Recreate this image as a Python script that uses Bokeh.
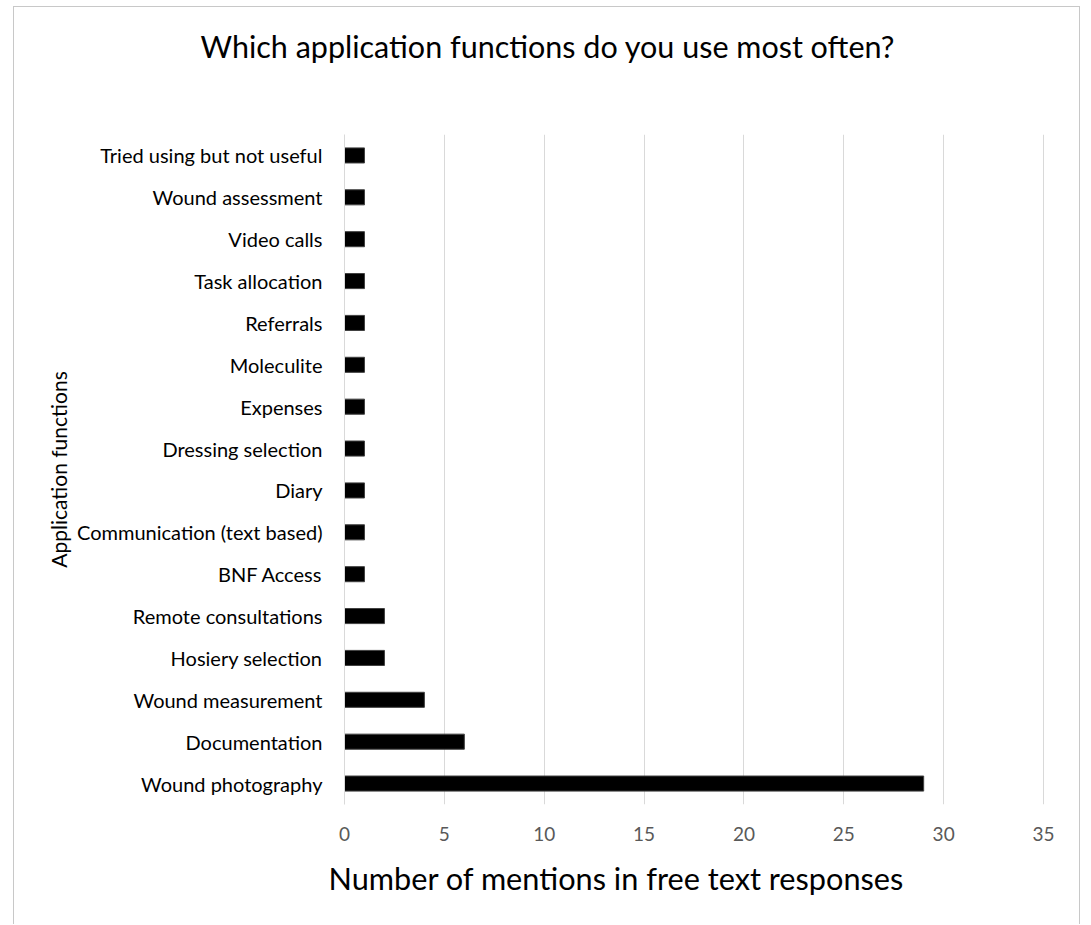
from bokeh.plotting import figure
from bokeh.models import FactorRange, Range1d, FixedTicker, ColumnDataSource, Title
from bokeh.embed import file_html
from bokeh.resources import INLINE

categories = [
    "Wound photography", "Documentation", "Wound measurement", "Hosiery selection",
    "Remote consultations", "BNF Access", "Communication (text based)", "Diary",
    "Dressing selection", "Expenses", "Moleculite", "Referrals", "Task allocation",
    "Video calls", "Wound assessment", "Tried using but not useful",
]
mentions = [29, 6, 4, 2, 2, 1, 1, 1, 1, 1, 1, 1, 1, 1, 1, 1]
x_ticks = [0, 5, 10, 15, 20, 25, 30, 35]
title_text = "Which application functions do you use most often?"
x_label_text = "Number of mentions in free text responses"
y_label_text = "Application functions"

FONT = "Lato"

source = ColumnDataSource(dict(cat=categories, val=mentions))

p = figure(
    width=1067, height=918,
    y_range=FactorRange(factors=categories),
    x_range=Range1d(0, 35.05),
    output_backend="svg", toolbar_location=None,
    min_border_left=330, min_border_right=37, min_border_top=127, min_border_bottom=121,
)
p.styles = {"margin-left": "13px", "margin-top": "6px",
            "border-left": "1px solid #c8c8c8", "border-right": "1px solid #c8c8c8",
            "border-top": "1px solid #c8c8c8"}

p.hbar(y="cat", right="val", left=0, height=0.36, source=source,
       fill_color="black", line_color="#404040", line_width=1)

spacer = Title(text=" ", text_font=FONT, text_font_size="10px", standoff=57)
main_title = Title(text=title_text, text_font=FONT, text_font_size="30.5px",
                   text_font_style="normal", text_color="black",
                   align="left", offset=-144, standoff=0)
p.add_layout(spacer, "above")
p.add_layout(main_title, "above")

x_title = Title(text=x_label_text, text_font=FONT, text_font_size="30.7px",
                text_font_style="normal", text_color="black",
                align="left", offset=-16, standoff=28)
p.add_layout(x_title, "below")

p.outline_line_color = None
p.background_fill_color = "white"
p.border_fill_color = "white"

xa = p.xaxis[0]
xa.ticker = FixedTicker(ticks=x_ticks)
xa.axis_line_color = None
xa.major_tick_line_color = None
xa.minor_tick_line_color = None
xa.major_label_text_font = FONT
xa.major_label_text_font_size = "19px"
xa.major_label_text_color = "#595959"
xa.major_label_standoff = 16

ya = p.yaxis[0]
ya.axis_line_color = "#d9d9d9"
ya.axis_line_width = 1
ya.major_tick_line_color = None
ya.minor_tick_line_color = None
ya.major_label_text_font = FONT
ya.major_label_text_font_size = "20px"
ya.major_label_text_color = "black"
ya.major_label_standoff = 16
ya.axis_label = y_label_text
ya.axis_label_text_font = FONT
ya.axis_label_text_font_size = "21px"
ya.axis_label_text_font_style = "normal"
ya.axis_label_text_color = "black"
ya.axis_label_standoff = 3

p.xgrid.grid_line_color = "#d9d9d9"
p.xgrid.grid_line_width = 1
p.ygrid.grid_line_color = None

open("out.html", "w").write(file_html(p, INLINE))
